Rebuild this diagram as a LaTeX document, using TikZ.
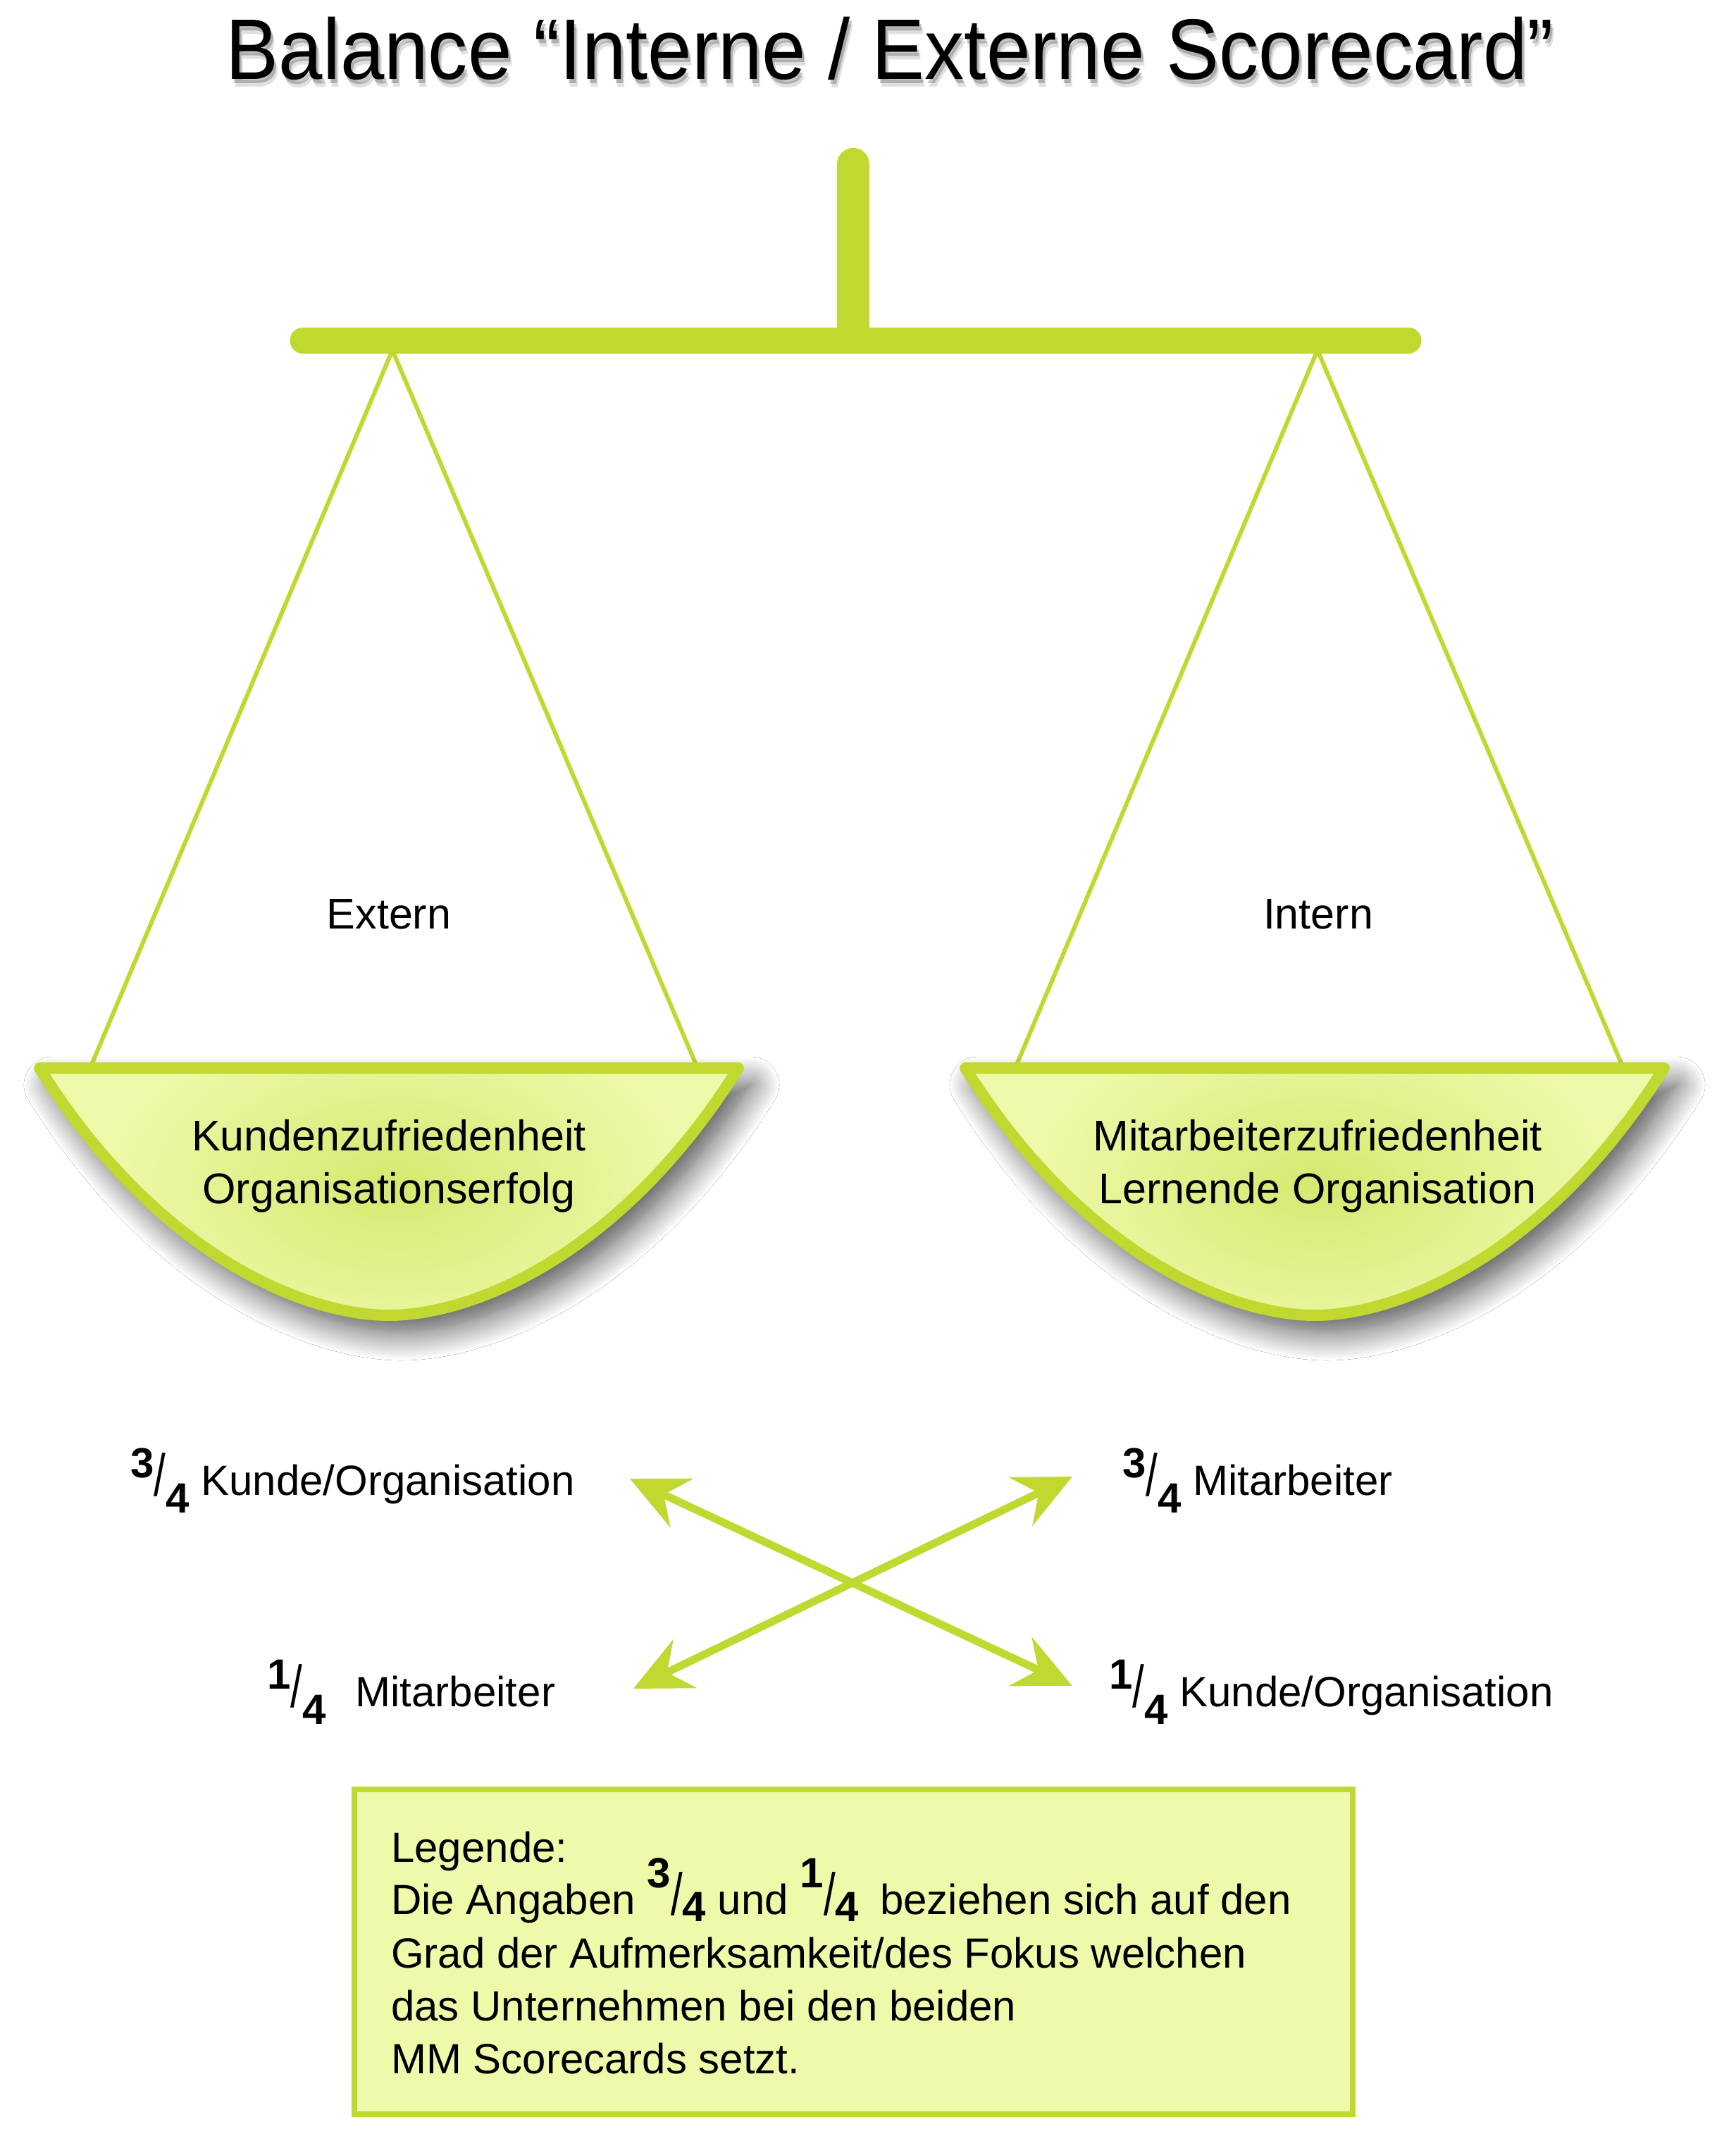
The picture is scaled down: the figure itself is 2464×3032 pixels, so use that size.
\documentclass[tikz,border=0pt]{standalone}
\usepackage{fontspec}
\usepackage{graphicx}
\setmainfont{Liberation Sans}
\newfontfamily\titlefont[FakeStretch=0.92]{Liberation Sans}
\usetikzlibrary{arrows.meta,shadows.blur}
\definecolor{lime}{RGB}{192,216,47}
\definecolor{panfill}{RGB}{239,249,170}
\definecolor{panglow}{RGB}{214,232,112}
% fraction: raise numerator, lower denominator
\newcommand\myfrac[4]{\raisebox{#1}{\bfseries #3}\raisebox{-1pt}{\scalebox{1}[1.4]{/}}\raisebox{-#2}{\bfseries #4}}
\newcommand\panshape{(-496,0) -- (496,0) .. controls (330,265) and (120,351) .. (0,351) .. controls (-120,351) and (-330,265) .. (-496,0) -- cycle}
\newcommand\drawpan[1]{%
  \begin{scope}[shift={(#1,1516)}]
    \path[fill=panfill, blur shadow={shadow xshift=18pt, shadow yshift=-24pt, shadow blur radius=40pt, shadow blur steps=16, shadow opacity=70}] \panshape;
    \begin{scope}
      \clip \panshape;
      \shade[inner color=panglow, outer color=panfill] (9,165) ellipse (420 and 250);
    \end{scope}
    \draw[lime, line width=16pt, line join=round] \panshape;
  \end{scope}}
\begin{document}
\begin{tikzpicture}[x=1pt,y=-1pt,
  titletext/.style={font=\titlefont\fontsize{122}{140}\selectfont, anchor=base, inner sep=0pt},
  pantext/.style={font=\fontsize{61}{70}\selectfont, anchor=base, inner sep=0pt},
  lbl/.style={font=\fontsize{60}{70}\selectfont, anchor=base west, inner sep=0pt},
  lgt/.style={font=\fontsize{60}{70}\selectfont, anchor=base west, inner sep=0pt},
  cord/.style={draw=lime, line width=6pt},
  dblarrow/.style={draw=lime, line width=11pt,
     {Stealth[length=81pt,width=76pt,inset=28pt]}-{Stealth[length=81pt,width=76pt,inset=28pt]}},
  legendbox/.style={draw=lime, line width=8pt, fill=panfill, minimum width=1417pt, minimum height=461pt, inner sep=0pt}
]
\useasboundingbox (0,0) rectangle (2464,3032);
\fill[white] (0,0) rectangle (2464,3032);

% title with soft shadow
\node[titletext, text=black, opacity=0.12] (tsh2) at (1268,124) {Balance “Interne / Externe Scorecard”};
\node[titletext, text=black, opacity=0.22] (tsh1) at (1266,119) {Balance “Interne / Externe Scorecard”};
\node[titletext] (title) at (1263,113) {Balance “Interne / Externe Scorecard”};

% stand and beam
\coordinate (posttop) at (1211,233);
\coordinate (pivot) at (1211,470);
\coordinate (beamL) at (430,483);
\coordinate (beamR) at (1999,483);
\draw[lime, line width=46pt, line cap=round] (posttop) -- (pivot);
\draw[lime, line width=37pt, line cap=round] (beamL) -- (beamR);

% strings
\coordinate (hookL) at (557,497);
\coordinate (hookR) at (1870,497);
\coordinate (lpanA) at (128,1516);
\coordinate (lpanB) at (990,1516);
\coordinate (rpanA) at (1441,1516);
\coordinate (rpanB) at (2304,1516);
\draw[cord] (lpanA) -- (hookL) -- (lpanB);
\draw[cord] (rpanA) -- (hookR) -- (rpanB);

% pans
\drawpan{552}
\drawpan{1866}

\node[pantext] (ext) at (552,1318) {Extern};
\node[pantext] (int) at (1871,1318) {Intern};
\node[pantext] (kz) at (552,1633) {Kundenzufriedenheit};
\node[pantext] (oe) at (552,1708) {Organisationserfolg};
\node[pantext] (mz) at (1870,1633) {Mitarbeiterzufriedenheit};
\node[pantext] (lo) at (1870,1708) {Lernende Organisation};

% fraction labels
\node[lbl] (l34k) at (185,2122) {\myfrac{25pt}{25pt}{3}{4} Kunde/Organisation};
\node[lbl] (l34m) at (1593,2122) {\myfrac{25pt}{25pt}{3}{4} Mitarbeiter};
\node[lbl] (l14m) at (379,2422) {\myfrac{25pt}{25pt}{1}{4}\hspace{42pt}Mitarbeiter};
\node[lbl] (l14k) at (1574,2422) {\myfrac{25pt}{25pt}{1}{4} Kunde/Organisation};

% crossing arrows
\coordinate (aTL) at (894,2099);
\coordinate (aBR) at (1522,2393);
\coordinate (aBL) at (899,2397);
\coordinate (aTR) at (1522,2096);
\draw[dblarrow] (aTL) -- (aBR);
\draw[dblarrow] (aBL) -- (aTR);

% legend
\node[legendbox] (legend) at (1211.5,2770.5) {};
\node[lgt] (g1) at (555,2643) {Legende:};
\node[lgt] (g2) at (555,2717) {Die Angaben \myfrac{38pt}{10pt}{3}{4} und \myfrac{38pt}{10pt}{1}{4}\hspace{30pt}beziehen sich auf den};
\node[lgt] (g3) at (555,2793) {Grad der Aufmerksamkeit/des Fokus welchen};
\node[lgt] (g4) at (555,2868) {das Unternehmen bei den beiden};
\node[lgt] (g5) at (555,2943) {MM Scorecards setzt.};
\end{tikzpicture}
\end{document}
